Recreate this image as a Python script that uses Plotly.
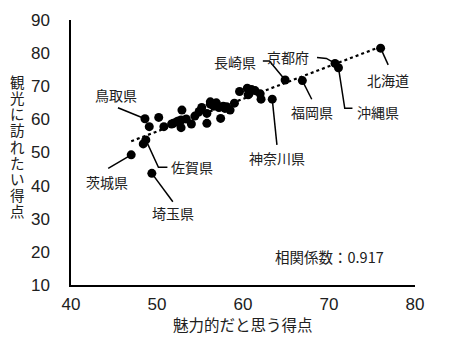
import numpy as np
import plotly.graph_objects as go

# 魅力的だと思う得点 (x) と 観光に訪れたい得点 (y)
labeled_names = ["北海道", "京都府", "沖縄県", "長崎県", "福岡県",
                 "神奈川県", "鳥取県", "佐賀県", "茨城県", "埼玉県"]
labeled_x = [76.0, 70.7, 71.1, 64.9, 66.9, 63.4, 48.6, 48.7, 47.0, 49.4]
labeled_y = [81.5, 76.9, 75.6, 71.9, 71.7, 66.1, 60.2, 53.8, 49.3, 43.7]

other_x = [48.4, 49.1, 50.2, 50.8, 51.7, 51.9, 52.3, 52.8, 52.9, 52.8,
           53.4, 54.0, 54.4, 54.9, 55.2, 55.8, 55.8, 56.2, 56.2, 56.9,
           57.2, 57.4, 57.7, 57.9, 58.1, 58.5, 59.0, 59.6, 60.5, 60.6,
           60.7, 61.4, 62.0, 62.1, 52.5, 56.6, 61.0]
other_y = [52.6, 57.8, 60.6, 57.8, 58.6, 58.8, 59.3, 59.8, 62.8, 57.5,
           60.1, 58.6, 61.0, 62.4, 63.6, 61.8, 58.8, 64.6, 65.3, 65.0,
           63.6, 60.3, 64.0, 63.3, 63.8, 62.8, 64.9, 68.4, 69.4, 67.4,
           67.7, 68.7, 67.7, 66.1, 59.5, 64.0, 69.0]

corr_text = "相関係数：0.917"
x_ticks = [40, 50, 60, 70, 80]
y_ticks = [10, 20, 30, 40, 50, 60, 70, 80, 90]

# layout geometry
W, H = 465, 349
ML, MR, MT, MB = 71, 50, 20, 64
XR, YR = (40, 80), (10, 90)
PW, PH = W - ML - MR, H - MT - MB
SX = PW / (XR[1] - XR[0])   # px per x unit
SY = PH / (YR[1] - YR[0])   # px per y unit

FONT = "Noto Sans CJK JP"
NUMFONT = "Liberation Sans, Noto Sans CJK JP"
TXT = "#202020"

all_x = np.array(labeled_x + other_x)
all_y = np.array(labeled_y + other_y)

fig = go.Figure()

# linear trend line across the data range
k, b = np.polyfit(all_x, all_y, 1)
tx = np.array([all_x.min(), all_x.max()])
fig.add_trace(go.Scatter(x=tx, y=k * tx + b, mode="lines",
                         line=dict(color="black", width=2.2, dash="dot"),
                         hoverinfo="skip", showlegend=False))

# leader lines (pixel offsets from the point) and label offsets
leaders = {
    "北海道": ([(0, 0), (7.6, 16.7)], (7.6, 31.7)),
    "京都府": ([(0, 0), (-8.6, -5), (-18, -6)], (-47, -6)),
    "沖縄県": ([(0, 0), (6.3, 40.6), (14, 40.6)], (39.6, 44)),
    "長崎県": ([(0, 0), (-15.7, -19), (-22.3, -19)], (-50, -18.3)),
    "福岡県": ([(0, 0), (9.4, 18.6)], (9.4, 31)),
    "神奈川県": ([(0, 0), (4.7, 45.7)], (4.7, 59)),
    "鳥取県": ([(0, 0), (-27, -11)], (-28.6, -23.7)),
    "佐賀県": ([(0, 0), (12.6, 27.3), (21.6, 27.3)], (46, 27.3)),
    "茨城県": ([(0, 0), (-23, 13.6)], (-24.3, 27)),
    "埼玉県": ([(0, 0), (21, 28.4)], (21.6, 40)),
}

for name, px, py in zip(labeled_names, labeled_x, labeled_y):
    path, (lx, ly) = leaders[name]
    fig.add_trace(go.Scatter(
        x=[px + dx / SX for dx, dy in path],
        y=[py - dy / SY for dx, dy in path],
        mode="lines", line=dict(color="black", width=1.5),
        hoverinfo="skip", showlegend=False))
    fig.add_annotation(x=px + lx / SX, y=py - ly / SY, text=name,
                       showarrow=False, xanchor="center", yanchor="middle",
                       font=dict(family=FONT, size=14, color=TXT))

fig.add_trace(go.Scatter(x=all_x, y=all_y, mode="markers",
                         marker=dict(color="black", size=9),
                         showlegend=False))

fig.add_annotation(x=70.1, y=18.5, text=corr_text, showarrow=False,
                   xanchor="center", yanchor="middle",
                   font=dict(family=FONT, size=14.5, color=TXT))

# x-axis title
fig.add_annotation(xref="paper", yref="paper", x=0.5, y=(MT + PH - 324) / PH,
                   text="魅力的だと思う得点", showarrow=False,
                   xanchor="center", yanchor="middle",
                   font=dict(family=FONT, size=15.5, color=TXT))

# y-axis title, stacked upright characters
ytitle = "観光に訪れたい得点"
step = 16.2
first = 147.5 - step * (len(ytitle) - 1) / 2
for i, ch in enumerate(ytitle):
    cy = first + i * step
    fig.add_annotation(xref="paper", yref="paper",
                       x=(17 - ML) / PW, y=(MT + PH - cy) / PH,
                       text=ch, showarrow=False,
                       xanchor="center", yanchor="middle",
                       font=dict(family=NUMFONT, size=14.5, color=TXT))

axis_common = dict(showgrid=False, zeroline=False, showline=True,
                   linecolor="black", linewidth=1.5, ticks="",
                   tickfont=dict(family=NUMFONT, size=17, color=TXT))
fig.update_xaxes(range=list(XR), tickvals=x_ticks, ticklabelstandoff=3,
                 **axis_common)
fig.update_yaxes(range=list(YR), tickvals=y_ticks, ticklabelstandoff=16,
                 **axis_common)

fig.update_layout(width=W, height=H,
                  margin=dict(l=ML, r=MR, t=MT, b=MB),
                  paper_bgcolor="white", plot_bgcolor="white",
                  showlegend=False)

fig.write_html("out.html")
